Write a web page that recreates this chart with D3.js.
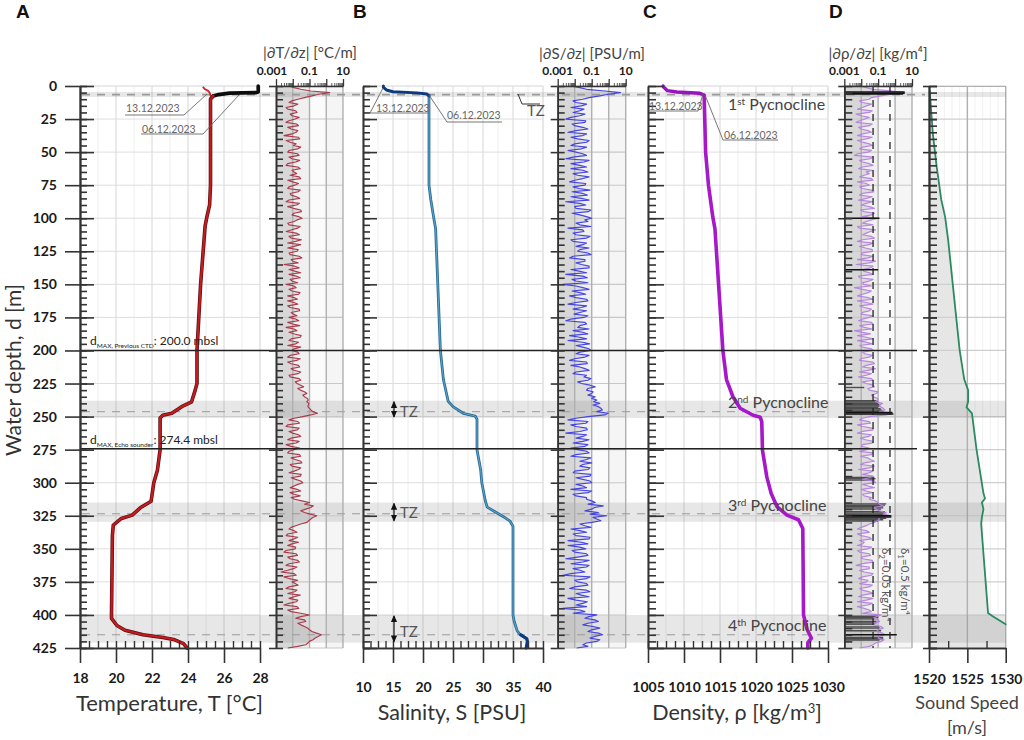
<!DOCTYPE html>
<html><head><meta charset="utf-8">
<script src="https://cdn.jsdelivr.net/npm/d3@7"></script>
<style>
html,body{margin:0;padding:0;background:#fff}
svg{display:block}
text{font-family:Lato,"Open Sans",sans-serif}
</style></head><body><svg id="c" width="1024" height="740"></svg>
<script>
const depthTicks=[0,25,50,75,100,125,150,175,200,225,250,275,300,325,350,375,400,425];
const bands=[[4.5,8.3],[238,251],[315,329.6],[400,421]];
const dashDepths=[6.5,246.3,323.5,415];
const blackDepths=[200,274.4];

const tempDepth=[7.5,10,75,90,99,106,150,200,225,230,238.8,242.5,247.5,249,251,275,290.5,300,314,319,324.5,327,332,340,400,402.6,408,411.6,415,417,418.5,421.7,425];
const tempMain=[25.4,25.25,25.25,25.2,25.05,24.95,24.7,24.5,24.5,24.4,24.2,23.65,23.1,22.6,22.45,22.45,22.3,22.1,21.95,21.35,20.9,20.3,19.85,19.8,19.75,19.75,20.05,20.5,21.5,22.6,23.2,23.75,23.95];
const temp06TopDepth=[0,4.6,5,5.4,6.5,7.5,9];
const temp06Top=[27.9,27.9,27.8,26.3,25.7,25.4,25.3];
const temp13TopDepth=[1,2.5,3.5,5,7];
const temp13Top=[24.85,24.95,25.1,25.2,25.25];

const salDepth=[7,75,86,100,108,200,222,238.5,242.5,247.5,249.6,252,275,290,300,314,318.5,322,325.7,329,333,400,405,412,415,418];
const salMain=[21,21,21.3,21.8,22.1,22.9,23.4,24.2,25,26.7,28.7,29,29,29.6,29.8,30.4,30.7,32,33.4,34.5,35,35,35.2,35.7,36.2,37.3];
const salTopDepth=[0,1,3,4.3,5.2,6,7.5];
const salTop=[13.4,13.4,13.9,15,19,20.6,21];
const salBottomDepth=[415,418,420,425];
const salBottom=[36.3,37.3,37.4,37.2];

const densDepth=[7,50,75,99,108,200,222,235,243.7,249,250.5,254,275.5,295.6,308,318,324.5,328,334.6,400,411,417.6,421,425];
const densMain=[1012.8,1013,1013.4,1014,1014.3,1015.4,1015.9,1016.8,1017.8,1019.6,1020.6,1020.8,1020.9,1021.5,1022.1,1022.9,1024.3,1025.9,1026.5,1026.6,1027.1,1027.7,1027.2,1027.2];
const densTopDepth=[0,1,3.5,4.5,5.5,7];
const densTop=[1007.1,1007.2,1007.7,1009,1012.2,1012.8];

const soundDepth=[4,36,61,86,99,116.5,150,200,222,230,238.8,243,247.5,275,308,312,315,320,326,331,398.6,401,407];
const soundVals=[1520.1,1520.5,1521,1521.6,1522.1,1522.5,1523.1,1524,1524.6,1525.1,1525.1,1524.9,1525.6,1526.2,1527.1,1527.3,1526.9,1527.1,1526.9,1526.8,1527.7,1528.3,1530];

const gradDepth=d3.range(0,425.1,1.25);
const dTdzA=[
.006,.03,1.6,.14,.02,.006,.012,.005,.018,.009,
.014,.004,.022,.008,.016,.003,.026,.007,.011,.020,
.005,.024,.009,.015,.004,.028,.012,.007,.030,.010,
.013,.005,.021,.008,.026,.004,.017,.011,.033,.009,
.036,.012,.006,.019,.004,.025,.008,.015,.030,.005,
.018,.007,.035,.010,.003,.024,.013,.006,.028,.009,
.004,.016,.009,.022,.012,.005,.020,.007,.026,.011,
.006,.023,.010,.004,.018,.013,.028,.006,.015,.030,
.009,.024,.005,.017,.008,.026,.012,.021,.007,.030,
.018,.045,.028,.07,.05,.085,.09,.08,.12,.30,
.04,.006,.025,.004,.019,.010,.03,.005,.016,.008,
.012,.005,.03,.014,.035,.009,.022,.006,.028,.015,
.04,.012,.018,.007,.028,.013,.10,.17,.06,.05,
.27,.12,.07,.015,.006,.018,.004,.012,.022,.005,
.014,.003,.019,.007,.025,.004,.011,.002,.016,.006,
.009,.021,.004,.013,.028,.006,.017,.003,.023,.008,
.10,.015,.06,.03,.08,.14,.52,.22,.10,.06,
.005];
const dTdzB=[
.012,.12,.35,.05,.009,.02,.004,.015,.007,.024,
.006,.017,.005,.02,.009,.022,.004,.016,.03,.006,
.019,.006,.026,.005,.02,.009,.017,.024,.005,.022,
.006,.028,.007,.017,.006,.025,.005,.03,.012,.022,
.018,.005,.028,.009,.016,.006,.033,.005,.012,.021,
.006,.024,.008,.021,.013,.006,.03,.016,.007,.02,
.012,.006,.027,.005,.019,.012,.005,.024,.008,.018,
.015,.005,.026,.012,.006,.032,.008,.022,.005,.012,
.02,.007,.028,.005,.022,.008,.03,.006,.024,.014,
.03,.02,.05,.04,.075,.07,.085,.10,.16,.12,
.012,.02,.005,.024,.006,.022,.008,.024,.004,.026,
.006,.025,.008,.03,.007,.03,.012,.032,.008,.03,
.02,.007,.03,.012,.008,.035,.05,.12,.03,.11,
.16,.09,.03,.008,.012,.005,.02,.006,.009,.015,
.004,.016,.005,.02,.006,.018,.005,.012,.003,.02,
.014,.006,.018,.005,.012,.02,.006,.018,.005,.03,
.03,.05,.02,.05,.10,.26,.32,.16,.08,.02];
const dSdzA=[
.006,.05,5.0,.30,.03,.012,.025,.035,.008,.02,
.003,.04,.01,.06,.004,.03,.015,.05,.006,.025,
.012,.05,.003,.035,.02,.006,.06,.015,.03,.005,
.04,.018,.007,.055,.025,.003,.045,.012,.065,.02,
.10,.06,.02,.004,.035,.012,.05,.008,.03,.07,
.015,.09,.005,.04,.025,.07,.018,.003,.055,.012,
.002,.03,.007,.045,.012,.06,.004,.025,.05,.009,
.035,.003,.05,.015,.008,.06,.02,.004,.075,.03,
.09,.012,.04,.005,.055,.02,.07,.008,.035,.06,
.025,.16,.05,.10,.16,.20,.30,.25,.42,.95,
.06,.004,.045,.012,.055,.003,.03,.07,.008,.04,
.015,.07,.006,.05,.10,.02,.06,.008,.08,.03,
.10,.03,.006,.06,.012,.05,.16,.48,.10,.25,
.76,.20,.10,.04,.006,.05,.012,.07,.025,.004,
.045,.01,.06,.003,.03,.07,.008,.04,.002,.05,
.015,.06,.005,.08,.025,.004,.055,.012,.002,.04,
.20,.04,.25,.03,.30,.06,.44,.08,.20,.03,
.013];
const dSdzB=[
.02,.6,.9,.07,.008,.05,.006,.02,.04,.006,
.045,.007,.03,.012,.05,.006,.07,.01,.05,.004,
.03,.008,.07,.006,.05,.03,.008,.07,.01,.045,
.008,.08,.03,.006,.07,.02,.01,.09,.007,.05,
.04,.012,.09,.03,.008,.08,.006,.05,.012,.02,
.06,.008,.04,.012,.07,.006,.05,.03,.007,.06,
.012,.07,.02,.005,.05,.012,.05,.008,.02,.06,
.006,.04,.02,.07,.03,.005,.05,.03,.012,.07,
.02,.07,.01,.05,.006,.04,.012,.05,.09,.015,
.08,.06,.12,.06,.10,.13,.12,.35,.20,.60,
.012,.06,.006,.05,.02,.05,.012,.03,.06,.006,
.05,.012,.09,.02,.03,.08,.01,.09,.012,.08,
.012,.05,.10,.008,.05,.10,.06,.15,.04,.08,
.12,.35,.02,.09,.02,.008,.08,.004,.06,.02,
.007,.05,.015,.07,.006,.05,.02,.006,.08,.01,
.05,.01,.05,.012,.07,.012,.03,.05,.02,.008,
.07,.15,.06,.12,.10,.25,.15,.30,.05,.06];
const dRhodzA=[
.008,.05,3.7,.15,.03,.012,.02,.006,.03,.01,
.016,.005,.03,.01,.04,.006,.02,.012,.045,.008,
.025,.004,.035,.012,.05,.007,.02,.015,.04,.006,
.03,.012,.055,.008,.02,.045,.01,.06,.015,.04,
.10,.02,.05,.008,.035,.012,.06,.006,.03,.018,
.045,.01,.025,.07,.005,.035,.014,.05,.008,.03,
.014,.004,.04,.012,.025,.006,.05,.016,.03,.01,
.03,.007,.05,.015,.004,.035,.02,.006,.045,.012,
.05,.016,.03,.008,.06,.012,.025,.04,.007,.05,
.02,.06,.03,.08,.05,.10,.18,.14,.25,.60,
.03,.008,.035,.012,.05,.006,.028,.018,.045,.01,
.02,.05,.009,.035,.015,.06,.007,.03,.05,.012,
.07,.025,.01,.045,.015,.03,.10,.20,.08,.30,
.55,.12,.06,.02,.006,.03,.01,.04,.015,.006,
.025,.008,.035,.012,.05,.005,.03,.015,.04,.007,
.02,.045,.008,.03,.012,.05,.006,.025,.015,.04,
.15,.05,.12,.06,.20,.08,.25,.10,.15,.05,
.008];
const dRhodzB=[
.02,.5,.6,.04,.008,.04,.012,.045,.005,.03,
.008,.045,.007,.025,.012,.045,.006,.03,.012,.04,
.006,.05,.008,.03,.012,.045,.03,.008,.05,.02,
.008,.04,.012,.045,.007,.02,.03,.009,.06,.012,
.04,.012,.006,.07,.02,.04,.012,.05,.008,.045,
.012,.05,.006,.03,.05,.012,.03,.007,.05,.012,
.04,.012,.025,.006,.05,.02,.008,.04,.012,.05,
.012,.04,.008,.045,.012,.006,.05,.02,.008,.04,
.012,.045,.009,.05,.02,.07,.008,.02,.04,.012,
.05,.025,.10,.04,.09,.07,.12,.20,.12,.30,
.012,.03,.006,.045,.012,.04,.009,.05,.012,.03,
.008,.04,.025,.06,.009,.03,.05,.012,.03,.06,
.012,.06,.02,.012,.04,.07,.12,.05,.12,.20,
.10,.09,.03,.01,.02,.006,.03,.008,.012,.04,
.006,.03,.01,.045,.012,.03,.008,.05,.012,.025,
.008,.03,.012,.05,.007,.02,.045,.006,.03,.012,
.08,.10,.05,.15,.10,.18,.12,.22,.07,.03];
const rhoGreyDepth=[228,238,239,240,241,242,243,244,245,246,296,297,298,316,317,318,319,320,322,323,324,327,328,329,401,402,403,405,406,407,409,410,412,417,418,419];
const rhoGreyVal=[.015,.08,.1,.1,.12,.12,.1,.14,.16,.2,.06,.07,.06,.3,.25,.2,.2,.15,.25,.25,.3,.3,.2,.1,.1,.1,.06,.08,.08,.06,.12,.12,.15,.2,.2,.12];
const rhoBlackDepth=[4.5,5.5,6,100,139,247,248,325,326,415];
const rhoBlackVal=[3.7,3.7,3,.12,.1,.7,.8,.6,.6,1.26];
const thresholds=[.05,.5];

const weave=(a,b)=>a.flatMap((v,i)=>i<b.length?[v,b[i]]:[v]);
const dTdz=weave(dTdzA,dTdzB), dSdz=weave(dSdzA,dSdzB), dRhodz=weave(dRhodzA,dRhodzB);

const y=d3.scaleLinear().domain([0,425]).range([86,648]);
const svg=d3.select('#c');
const inkDark='#333', grid='#dedede', gridDark='#b0b0b0', labelColor='#1a1a1a', soft='#5a5a5a';

const panels={
 T:{x:d3.scaleLinear().domain([18,28]).range([80,260]),major:d3.range(18,28.1,2),minor:d3.range(18,28.1,.5),fine:d3.range(18,28.1,1),labelY:684},
 S:{x:d3.scaleLinear().domain([10,40]).range([363,543]),major:d3.range(10,40.1,5),minor:d3.range(10,40.1,1.25),fine:d3.range(10,40.1,2.5),labelY:693},
 R:{x:d3.scaleLinear().domain([1005,1030]).range([648,828]),major:d3.range(1005,1030.1,5),minor:d3.range(1005,1030.1,1.25),fine:d3.range(1005,1030.1,2.5),labelY:693},
 C:{x:d3.scaleLinear().domain([1520,1530]).range([929,1005.7]),major:[1520,1525,1530],minor:[1522.5,1527.5],fine:d3.range(1520,1530.1,1),labelY:685}
};
const gradX={
 T:d3.scaleLog().domain([.001,10]).range([276,343]),
 S:d3.scaleLog().domain([.001,10]).range([557.7,625.7]),
 R:d3.scaleLog().domain([.001,10]).range([844.3,912])
};
const decades=[.01,.1,1,10];
const logMinor=[];
[.001,.01,.1,1].forEach(b=>{for(let i=2;i<10;i++)logMinor.push(b*i)});

// backgrounds
const bg=svg.append('g');
const mainGrid=(p)=>{
 bg.append('rect').attr('x',p.x.range()[0]).attr('y',86).attr('width',p.x.range()[1]-p.x.range()[0]).attr('height',562).attr('fill','#fff').attr('stroke','#ececec');
 bg.selectAll(null).data(p.fine).join('line').attr('x1',d=>p.x(d)).attr('x2',d=>p.x(d)).attr('y1',86).attr('y2',648).attr('stroke','#eeeeee').attr('stroke-width',1);
 bg.selectAll(null).data(p.major).join('line').attr('x1',d=>p.x(d)).attr('x2',d=>p.x(d)).attr('y1',86).attr('y2',648).attr('stroke',grid).attr('stroke-width',1);
 bg.selectAll(null).data(depthTicks).join('line').attr('x1',p.x.range()[0]).attr('x2',p.x.range()[1]).attr('y1',d=>y(d)).attr('y2',d=>y(d)).attr('stroke',grid).attr('stroke-width',1);
};
mainGrid(panels.T);mainGrid(panels.S);mainGrid(panels.R);

// sound panel
const cp=panels.C;
bg.append('rect').attr('x',929).attr('y',86).attr('width',76.7).attr('height',562).attr('fill','#fff');
bg.selectAll(null).data(cp.fine).join('line').attr('x1',d=>cp.x(d)).attr('x2',d=>cp.x(d)).attr('y1',86).attr('y2',648).attr('stroke','#f1f1f1');
bg.append('path').attr('fill','#e6e6e6')
 .attr('d',d3.area().x0(cp.x(1520)).x1(d=>cp.x(d[1])).y(d=>y(d[0]))([[0,1520],...soundDepth.map((d,i)=>[d,soundVals[i]]),[425,1530]]));
bg.selectAll(null).data(depthTicks).join('line').attr('x1',929).attr('x2',1005.7).attr('y1',d=>y(d)).attr('y2',d=>y(d)).attr('stroke','#cfcfcf').attr('stroke-width',1.2);
bg.selectAll(null).data([1525,1530]).join('line').attr('x1',d=>cp.x(d)).attr('x2',d=>cp.x(d)).attr('y1',86).attr('y2',648).attr('stroke',gridDark).attr('stroke-width',1.4);
bg.append('line').attr('x1',929).attr('x2',1005.7).attr('y1',86.5).attr('y2',86.5).attr('stroke',gridDark);

// gradient panel backgrounds
function gradBg(g,vals){
 const stops=[[.001,.01,'#dcdcdc'],[.01,.1,'#f0f0f0'],[.1,1,'#fbfbfb'],[1,10,'#f5f5f5']];
 bg.selectAll(null).data(stops).join('rect').attr('x',d=>g(d[0])).attr('width',d=>g(d[1])-g(d[0])).attr('y',86).attr('height',562).attr('fill',d=>d[2]);
 bg.append('path').attr('fill','#d6d6d6').attr('fill-opacity',.8)
  .attr('d',d3.area().x0(g(.001)).x1(d=>g(d[1])).y(d=>y(d[0]))(gradDepth.map((d,i)=>[d,vals[i]])));
}
gradBg(gradX.T,dTdz);gradBg(gradX.S,dSdz);gradBg(gradX.R,dRhodz);

// bands
bg.selectAll(null).data(bands).join('rect').attr('x',80).attr('width',925.7).attr('y',d=>y(d[0])).attr('height',d=>y(d[1])-y(d[0])).attr('fill','rgb(120,120,120)').attr('fill-opacity',.18);

// gradient grid on top of the bands
[gradX.T,gradX.S,gradX.R].forEach(g=>{
 const gg=svg.append('g');
 gg.selectAll(null).data(depthTicks).join('line').attr('x1',g(.001)).attr('x2',g(10)).attr('y1',d=>y(d)).attr('y2',d=>y(d)).attr('stroke','#c8c8c8').attr('stroke-width',1.1);
 gg.selectAll(null).data(decades).join('line').attr('x1',d=>g(d)).attr('x2',d=>g(d)).attr('y1',86).attr('y2',648).attr('stroke',gridDark).attr('stroke-width',1.4);
});

// dashed lines
const dash=svg.append('g');
dash.selectAll(null).data(dashDepths).join('line').attr('x1',82).attr('x2',(d,i)=>i==0?925:828).attr('y1',d=>y(d)).attr('y2',d=>y(d))
 .attr('stroke','#9a9a9a').attr('stroke-width',(d,i)=>i==0?1.6:1).attr('stroke-dasharray','8 7');

// gradient curves
const gLine=(g,vals,col,w,op)=>svg.append('path').attr('fill','none').attr('stroke',col).attr('stroke-width',w).attr('stroke-opacity',op)
 .attr('stroke-linejoin','round')
 .attr('d',d3.line().x((d,i)=>g(vals[i])).y(d=>y(d))(gradDepth));
gLine(gradX.T,dTdz,'#a83345',1.15,.95);
gLine(gradX.S,dSdz,'#3c3ce0',1.15,.95);

// density gradient: threshold bars, curve, dashed thresholds
const gr=gradX.R;
svg.append('g').selectAll('line').data(rhoGreyDepth).join('line').attr('x1',gr(.001)).attr('x2',(d,i)=>gr(rhoGreyVal[i])).attr('y1',d=>y(d)).attr('y2',d=>y(d)).attr('stroke','#4d4d4d').attr('stroke-width',1.4);
gLine(gr,dRhodz,'#b482dc',1.2,.95);
svg.append('g').selectAll('line').data(rhoBlackDepth).join('line').attr('x1',gr(.001)).attr('x2',(d,i)=>gr(rhoBlackVal[i])).attr('y1',d=>y(d)).attr('y2',d=>y(d)).attr('stroke','#111').attr('stroke-width',1.5);
svg.append('g').selectAll('line').data(thresholds).join('line').attr('x1',d=>gr(d)).attr('x2',d=>gr(d)).attr('y1',86).attr('y2',648).attr('stroke','#222').attr('stroke-width',1.3).attr('stroke-dasharray','7 7');

// profile lines
function prof(xs,ds,vs,col,w){
 return svg.append('path').attr('fill','none').attr('stroke',col).attr('stroke-width',w).attr('stroke-linejoin','round').attr('stroke-linecap','round')
  .attr('d',d3.line().x((d,i)=>xs(vs[i])).y(d=>y(d))(ds));
}
prof(panels.T.x,temp06TopDepth,temp06Top,'#0d0d0d',3.6);
prof(panels.T.x,tempDepth,tempMain,'#5c0d0d',3.6);
prof(panels.T.x,tempDepth,tempMain,'#c01c22',2.2);
prof(panels.T.x,temp13TopDepth,temp13Top,'#c8252a',1.8);
prof(panels.S.x,salDepth,salMain,'#2a6d96',2.8);
prof(panels.S.x,salDepth,salMain,'#5fa5c9',1);
prof(panels.S.x,salTopDepth,salTop,'#0c3a80',3);
prof(panels.S.x,salBottomDepth,salBottom,'#0c3a80',3.2);
prof(panels.R.x,densDepth,densMain,'#a618c8',3.6);
prof(panels.R.x,densTopDepth,densTop,'#9a14bd',3.4);
prof(cp.x,soundDepth,soundVals,'#2a8a62',1.8);

// horizontal reference lines
svg.append('g').selectAll('line').data(blackDepths).join('line').attr('x1',80).attr('x2',917).attr('y1',d=>y(d)).attr('y2',d=>y(d)).attr('stroke','#222').attr('stroke-width',1.5);

// axes
function styleAxis(g,w){g.selectAll('path.domain').attr('stroke',inkDark).attr('stroke-width',w||1.6);g.selectAll('line').attr('stroke',inkDark).attr('stroke-width',w||1.6);return g}
function yAxes(x0,leftLen,rightLen,smallLen,labelled){
 const minor=d3.range(0,425.1,5);
 if(leftLen){const a=d3.axisLeft(y).tickValues(depthTicks).tickSize(leftLen).tickSizeOuter(0).tickPadding(8);
  if(!labelled)a.tickFormat('');
  const g=svg.append('g').attr('transform',`translate(${x0},0)`).call(a);styleAxis(g,1.6);
  g.selectAll('text').attr('font-size',14).attr('font-weight',700).attr('fill',labelColor);}
 if(rightLen){const g=svg.append('g').attr('transform',`translate(${x0},0)`).call(d3.axisRight(y).tickValues(depthTicks).tickSize(rightLen).tickSizeOuter(0).tickFormat(''));styleAxis(g,1.6);}
 const g2=svg.append('g').attr('transform',`translate(${x0},0)`).call(d3.axisRight(y).tickValues(minor).tickSize(smallLen).tickSizeOuter(0).tickFormat(''));styleAxis(g2,1.6);
}
function xAxes(p){
 const g=svg.append('g').attr('transform','translate(0,648)').call(d3.axisBottom(p.x).tickValues(p.major).tickSize(15).tickSizeOuter(0).tickPadding(p.labelY-648-15-11).tickFormat(d3.format('d')));
 styleAxis(g,1.6);
 g.selectAll('text').attr('font-size',14).attr('font-weight',700).attr('fill',labelColor);
 const g2=svg.append('g').attr('transform','translate(0,648)').call(d3.axisTop(p.x).tickValues(p.minor).tickSize(7).tickSizeOuter(0).tickFormat(''));styleAxis(g2,1.4);
}
yAxes(80,15,14,7,true);
yAxes(363,0,14,7,false);
yAxes(648,0,16,8,false);
yAxes(929,6,8,8,false);
yAxes(276,7,0,7,false);
yAxes(557.7,7,0,7,false);
yAxes(844.3,6,0,8,false);
[panels.T,panels.S,panels.R,panels.C].forEach(xAxes);

function topAxis(g,labelDx){
 const a=svg.append('g').attr('transform','translate(0,86)').call(d3.axisTop(g).tickValues([.001,.01,.1,1,10]).tickSize(7).tickSizeOuter(0).tickFormat(''));
 styleAxis(a,1.3);
 const m=svg.append('g').attr('transform','translate(0,86)').call(d3.axisTop(g).tickValues(logMinor).tickSize(3).tickSizeOuter(0).tickFormat(''));
 styleAxis(m,.8);
 svg.selectAll(null).data([[.001,'0.001'],[.1,'0.1'],[10,'10']]).join('text').attr('x',d=>g(d[0])+(d[0]==.001?labelDx:0)).attr('y',74.5).attr('text-anchor','middle')
  .attr('font-size',12).attr('font-weight',700).attr('fill',labelColor).text(d=>d[1]);
}
topAxis(gradX.T,-4);topAxis(gradX.S,0);topAxis(gradX.R,0);

// text helpers
function txt(x,yy,s,o={}){return svg.append('text').attr('x',x).attr('y',yy).attr('text-anchor',o.anchor||'start').attr('font-size',o.size||12).attr('font-weight',o.weight||400).attr('fill',o.fill||soft).text(s)}
function poly(pts,col,w){svg.append('path').attr('fill','none').attr('stroke',col||'#666').attr('stroke-width',w||.9).attr('d',d3.line()(pts))}

// panel letters
[['A',16],['B',353],['C',643],['D',829]].forEach(d=>{
 txt(d[1],18,d[0],{size:19,weight:700,fill:'#111'}).style('font-family','"Liberation Sans",Arial,sans-serif');
});

// titles
txt(310,58,'|∂T/∂z| [°C/m]',{anchor:'middle',size:15,fill:'#444'});
txt(592,59,'|∂S/∂z| [PSU/m]',{anchor:'middle',size:15,fill:'#444'});
txt(878,59,'|∂ρ/∂z| [kg/m⁴]',{anchor:'middle',size:15,fill:'#444'});
txt(169.5,711,'Temperature, T [°C]',{anchor:'middle',size:22,fill:'#333'});
txt(452,720,'Salinity, S [PSU]',{anchor:'middle',size:21.5,fill:'#333'});
{const t=txt(737,720,'Density, ρ [kg/m',{anchor:'middle',size:21.5,fill:'#333'});
 t.append('tspan').attr('dy',-7).attr('font-size',13).text('3');
 t.append('tspan').attr('dy',7).text(']');}
txt(967,709,'Sound Speed',{anchor:'middle',size:18,fill:'#444'});
txt(967,734,'[m/s]',{anchor:'middle',size:18,fill:'#444'});
svg.append('text').attr('transform','translate(21,370) rotate(-90)').attr('text-anchor','middle').attr('font-size',21).attr('fill','#333').text('Water depth, d [m]');

// dMAX labels
function dmax(x,yy,sub,rest){
 const t=txt(x,yy,'d',{size:12,fill:'#222'});
 t.append('tspan').attr('dy',3).attr('font-size',6.5).text(sub);
 t.append('tspan').attr('dy',-3).text(rest);
}
dmax(90,345,'MAX, Previous CTD',': 200.0 mbsl');
dmax(90,444,'MAX, Echo sounder',': 274.4 mbsl');

// date annotations
const date={size:10.5,fill:'#666'};
txt(126,112,'13.12.2023',date);poly([[125,115],[184,115],[207,94]]);
txt(142,133,'06.12.2023',date);poly([[141,134],[203,134],[239,95]]);
txt(376,112,'13.12.2023',date);poly([[383,88],[370,113],[428,113]]);
txt(447,119,'06.12.2023',date);poly([[429,95],[447,122],[502,122]]);
txt(649,110,'13.12.2023',date);poly([[649,111],[698,111],[703,94]]);
txt(724,139,'06.12.2023',date);poly([[705,95],[723,140],[778,140]]);

// TZ
poly([[518,94],[522,104],[540,104]],'#333',1);
txt(527,116,'TZ',{size:15,fill:'#555'});
svg.append('defs').html('<marker id="ah" viewBox="0 0 8 8" refX="7" refY="4" markerWidth="6" markerHeight="6" orient="auto-start-reverse"><path d="M0,0.5L8,4L0,7.5z" fill="#111"/></marker>');
bands.slice(1).forEach((b,i)=>{
 svg.append('line').attr('x1',394).attr('x2',394).attr('y1',y(b[0])+1).attr('y2',y(b[1])-1).attr('stroke','#111').attr('stroke-width',1.2)
  .attr('marker-start','url(#ah)').attr('marker-end','url(#ah)');
 txt(400,[417,518,637][i],'TZ',{size:15,fill:'#555'});
});

// pycnocline labels
function pyc(yy,n,sup){
 const t=txt(728,yy,n,{size:16,fill:'#444'});
 t.append('tspan').attr('dy',-5).attr('font-size',10).text(sup);
 t.append('tspan').attr('dy',5).text(' Pycnocline');
}
pyc(110,'1','st');pyc(408,'2','nd');pyc(511,'3','rd');pyc(631,'4','th');

// threshold labels
function thr(x,yy,sub,rest){
 const t=svg.append('text').attr('transform',`translate(${x},${yy}) rotate(90)`).attr('font-size',11.5).attr('fill','#555').text('δ');
 t.append('tspan').attr('dy',3).attr('font-size',8).text(sub);
 t.append('tspan').attr('dy',-3).text(rest);
}
thr(882,548,'2','=0.05 kg/m⁴');
thr(901,548,'1','=0.5 kg/m⁴');
</script></body></html>
